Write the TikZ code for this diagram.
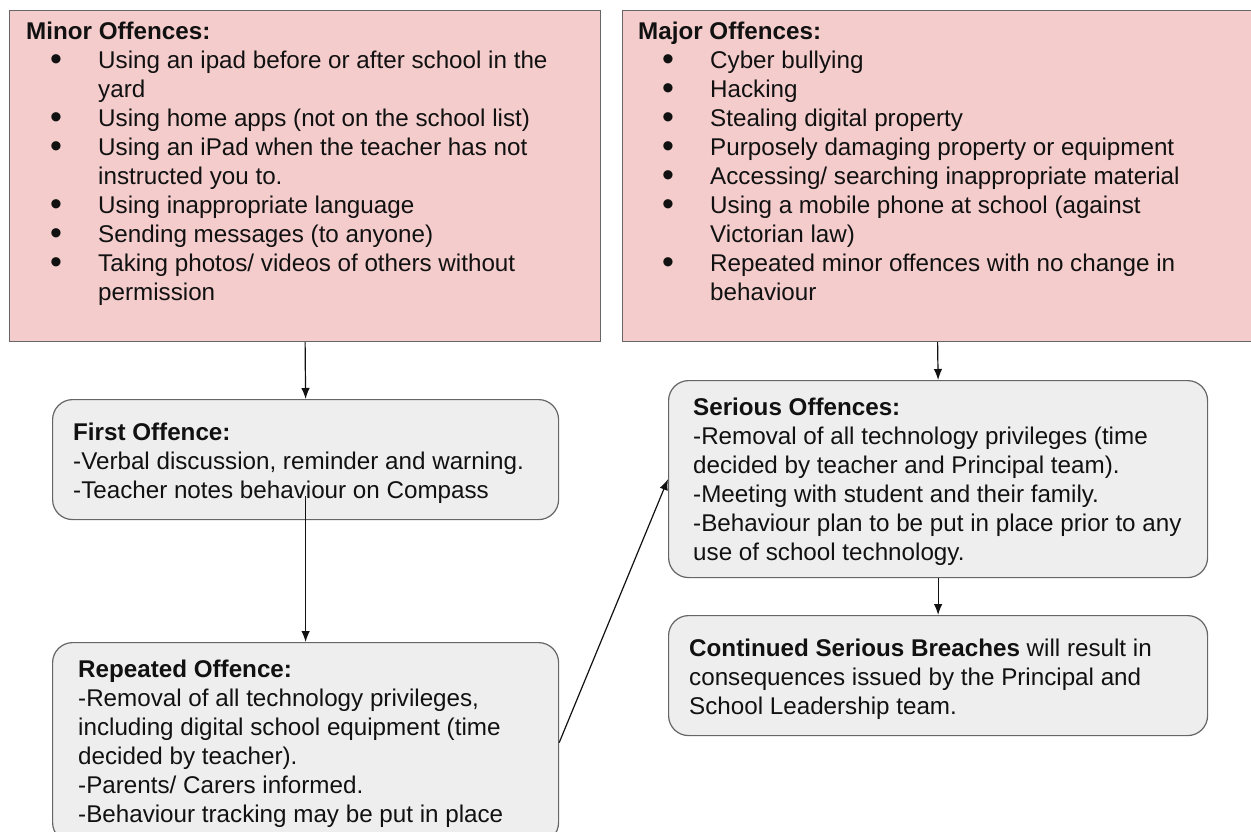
\documentclass[tikz,border=0pt]{standalone}
\usepackage{fontspec}
\setmainfont{Liberation Sans}
\usepackage{tikz}
\usetikzlibrary{arrows.meta}
\definecolor{pinkfill}{HTML}{F4CCCC}
\definecolor{greyfill}{HTML}{EEEEEE}
\definecolor{edge}{HTML}{666666}
\definecolor{ink}{HTML}{111111}
\tikzset{
  offbox/.style={draw=edge, fill=pinkfill, line width=1.2pt, anchor=north west, inner sep=0pt},
  stepbox/.style={draw=edge, fill=greyfill, line width=1.2pt, rounded corners=20pt, anchor=north west, inner sep=0pt},
  txt/.style={text=ink, align=left, anchor=north west, inner sep=0pt, font=\fontsize{24.2}{29}\selectfont},
  arr/.style={draw=ink, line width=1.2pt, -{Latex[length=11pt,width=8.5pt]}},
}
\newcommand{\itm}{\makebox[72pt][l]{\hspace{24pt}\raisebox{-1.8pt}{\scalebox{1.4}{\textbullet}}}}
\newcommand{\cnt}{\hspace*{72pt}}

\begin{document}
\begin{tikzpicture}[x=1pt,y=-1pt]
\useasboundingbox (0,0) rectangle (1251,832);
% offence boxes
\node[offbox, minimum width=591pt, minimum height=331pt] (minor) at (9,10) {};
\node[offbox, minimum width=630pt, minimum height=331pt] (major) at (622,10) {};
% consequence boxes
\node[stepbox, minimum width=506pt, minimum height=120pt] (first) at (52,399) {};
\node[stepbox, minimum width=506pt, minimum height=200pt] (repeated) at (52,642) {};
\node[stepbox, minimum width=539pt, minimum height=197pt] (serious) at (668,380) {};
\node[stepbox, minimum width=539pt, minimum height=120pt] (continued) at (668,615) {};

\node[txt] (minortxt) at (26,22) {\textbf{Minor Offences:}\\
\itm Using an ipad before or after school in the\\
\cnt yard\\
\itm Using home apps (not on the school list)\\
\itm Using an iPad when the teacher has not\\
\cnt instructed you to.\\
\itm Using inappropriate language\\
\itm Sending messages (to anyone)\\
\itm Taking photos/ videos of others without\\
\cnt permission};
\node[txt] (majortxt) at (638,22) {\textbf{Major Offences:}\\
\itm Cyber bullying\\
\itm Hacking\\
\itm Stealing digital property\\
\itm Purposely damaging property or equipment\\
\itm Accessing/ searching inappropriate material\\
\itm Using a mobile phone at school (against\\
\cnt Victorian law)\\
\itm Repeated minor offences with no change in\\
\cnt behaviour};
\node[txt] (firsttxt) at (73,423) {\textbf{First Offence:}\\
-Verbal discussion, reminder and warning.\\
-Teacher notes behaviour on Compass};
\node[txt] (repeatedtxt) at (78,660) {\textbf{Repeated Offence:}\\
-Removal of all technology privileges,\\
including digital school equipment (time\\
decided by teacher).\\
-Parents/ Carers informed.\\
-Behaviour tracking may be put in place};
\node[txt] (serioustxt) at (693,398) {\textbf{Serious Offences:}\\
-Removal of all technology privileges (time\\
decided by teacher and Principal team).\\
-Meeting with student and their family.\\
-Behaviour plan to be put in place prior to any\\
use of school technology.};
\node[txt] (continuedtxt) at (689,639) {\textbf{Continued Serious Breaches} will result in\\
consequences issued by the Principal and\\
School Leadership team.};

% arrows
\draw[arr] (minor.south) -- (first.north);
\draw[arr] ([yshift=24pt]first.south) -- (repeated.north);
\draw[arr] (repeated.east) -- (serious.west);
\draw[arr] (major.south) -- (serious.north);
\draw[arr] (serious.south) -- (continued.north);
\end{tikzpicture}
\end{document}
